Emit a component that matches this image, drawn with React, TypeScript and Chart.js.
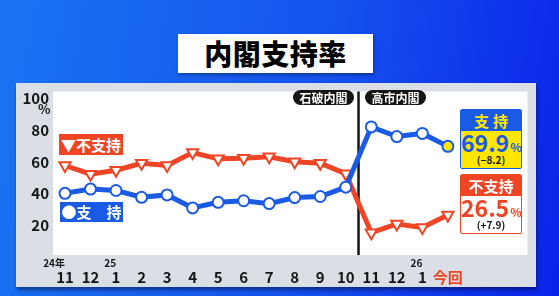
import React, { useEffect, useRef } from 'react';
import { Chart, registerables } from 'chart.js';

Chart.register(...registerables);

// ---- data ----
const monthLabels = ['11', '12', '1', '2', '3', '4', '5', '6', '7', '8', '9', '10', '11', '12', '1', '今回'];
const yearTickIndex = [0, 2, 14];
const yearLabels = ['24年', '25', '26'];
const supportValues = [40.2, 42.9, 42.0, 37.7, 39.2, 31.0, 34.5, 35.5, 33.7, 37.5, 38.2, 44.1, 82.2, 76.1, 78.1, 69.9];
const disapproveValues = [57.8, 52.3, 54.8, 59.2, 57.8, 66.0, 62.0, 62.4, 63.3, 60.2, 59.3, 52.6, 15.3, 20.8, 18.6, 26.5];
const yTickValues = [20, 40, 60, 80, 100];
const cabinetSplit = 11.5;
const cabinetNames = ['石破内閣', '高市内閣'];

const FONT = '"Noto Sans CJK JP", "Noto Sans", sans-serif';
const BLUE = '#1a5be6';
const RED = '#ef4524';
const YELLOW = '#ffe600';
const INK = '#151515';

const fmt = (v: number) => v.toFixed(1);
const fmtDiff = (v: number) => (v < 0 ? '\u2212' : '+') + Math.abs(v).toFixed(1);

const last = supportValues.length - 1;
const supportNow = supportValues[last];
const supportDiff = supportValues[last] - supportValues[last - 1];
const disNow = disapproveValues[last];
const disDiff = disapproveValues[last] - disapproveValues[last - 1];

const plotPlugin = {
  id: 'plotPlugin',
  beforeDraw(chart: any) {
    const { ctx, chartArea: a } = chart;
    ctx.save();
    ctx.fillStyle = '#ffffff';
    ctx.fillRect(a.left, a.top, a.right - a.left, a.bottom - a.top);
    ctx.restore();
  },
  beforeDatasetsDraw(chart: any) {
    const { ctx, chartArea: a } = chart;
    const x = chart.scales.x.getPixelForValue(cabinetSplit);
    ctx.save();
    ctx.strokeStyle = INK;
    ctx.lineWidth = 2.5;
    ctx.beginPath();
    ctx.moveTo(x, a.top);
    ctx.lineTo(x, a.bottom);
    ctx.stroke();
    ctx.restore();
  },
};

const noPad = (axis: any) => {
  axis.paddingTop = 0;
  axis.paddingBottom = 0;
  axis.paddingLeft = 0;
  axis.paddingRight = 0;
};

export default function App() {
  const ref = useRef<HTMLCanvasElement | null>(null);

  useEffect(() => {
    if (!ref.current) return;
    Chart.defaults.font.family = FONT;
    const xMin = -0.47;
    const xMax = 18.12;
    const chart = new Chart(ref.current, {
      type: 'line',
      data: {
        datasets: [
          {
            label: '支持',
            data: supportValues.map((v, i) => ({ x: i, y: v })),
            borderColor: BLUE,
            borderWidth: 5,
            pointStyle: 'circle',
            pointRadius: 5.5,
            pointBorderWidth: 2,
            pointBorderColor: BLUE,
            pointBackgroundColor: supportValues.map((_, i) => (i === last ? YELLOW : '#ffffff')),
            tension: 0,
          },
          {
            label: '不支持',
            data: disapproveValues.map((v, i) => ({ x: i, y: v })),
            borderColor: RED,
            borderWidth: 5,
            pointStyle: 'triangle',
            rotation: 180,
            pointRadius: 6.5,
            pointBorderWidth: 2,
            pointBorderColor: RED,
            pointBackgroundColor: '#ffffff',
            tension: 0,
          },
        ],
      },
      options: {
        animation: false,
        responsive: false,
        events: [],
        layout: { padding: { top: 4, right: 7, bottom: 0, left: 0 } },
        plugins: { legend: { display: false }, tooltip: { enabled: false } },
        scales: {
          y: {
            type: 'linear',
            position: 'left',
            min: 1.2,
            max: 104.6,
            grid: { display: false, drawTicks: false },
            border: { display: false },
            afterBuildTicks: (axis: any) => {
              axis.ticks = yTickValues.map((v) => ({ value: v }));
            },
            afterFit: (axis: any) => {
              axis.width = 37;
              noPad(axis);
            },
            ticks: {
              padding: 4,
              color: INK,
              font: { size: 15, weight: 'bold' },
            },
          },
          x2: {
            type: 'linear',
            position: 'bottom',
            weight: 0,
            min: xMin,
            max: xMax,
            grid: { display: false, drawTicks: false },
            border: { display: false },
            afterBuildTicks: (axis: any) => {
              axis.ticks = yearTickIndex.map((v) => ({ value: v }));
            },
            afterFit: (axis: any) => {
              axis.height = 13;
              noPad(axis);
            },
            ticks: {
              autoSkip: false,
              maxRotation: 0,
              align: 'end',
              padding: 2,
              color: INK,
              font: { size: 10, weight: 'bold' },
              callback: (value: any) => yearLabels[yearTickIndex.indexOf(value)],
            },
          },
          x: {
            type: 'linear',
            position: 'bottom',
            weight: 5,
            min: xMin,
            max: xMax,
            grid: { display: false, drawTicks: false },
            border: { display: false },
            afterBuildTicks: (axis: any) => {
              axis.ticks = monthLabels.map((_, i) => ({ value: i }));
            },
            afterFit: (axis: any) => {
              axis.height = 19;
              noPad(axis);
            },
            ticks: {
              autoSkip: false,
              maxRotation: 0,
              padding: 0,
              color: (c: any) => (c.tick && c.tick.value === monthLabels.length - 1 ? RED : INK),
              font: { size: 15, weight: 'bold' },
              callback: (value: any) => monthLabels[value],
            },
          },
        },
      },
      plugins: [plotPlugin],
    } as any);
    return () => chart.destroy();
  }, []);

  const abs = (s: React.CSSProperties): React.CSSProperties => ({ position: 'absolute', ...s });
  const pill = (left: number, text: string) => (
    <div
      style={abs({
        left,
        top: 90,
        width: 61,
        height: 15,
        background: INK,
        color: '#fff',
        borderRadius: 8,
        fontSize: 12,
        fontWeight: 700,
        lineHeight: '15px',
        textAlign: 'center',
      })}
    >
      {text}
    </div>
  );

  return (
    <div
      style={{
        position: 'fixed',
        left: 0,
        top: 0,
        width: 559,
        height: 296,
        overflow: 'hidden',
        fontFamily: FONT,
        background: 'linear-gradient(100deg, #1a74f2 0%, #1553ee 55%, #0a22ea 100%)',
      }}
    >
      <div
        style={abs({
          left: 178,
          top: 34,
          width: 195,
          height: 39,
          background: '#fff',
          boxShadow: '1px 2px 3px rgba(0,0,0,0.35)',
          textAlign: 'center',
          fontSize: 28,
          fontWeight: 900,
          lineHeight: '39px',
          color: '#000',
          letterSpacing: 0.5,
        })}
      >
        内閣支持率
      </div>

      <div
        style={abs({
          left: 16,
          top: 83,
          width: 520,
          height: 204,
          background: '#d9dfe4',
          boxShadow: '1px 3px 4px rgba(0,0,30,0.45)',
        })}
      >
        <canvas ref={ref} width={520} height={204} style={{ display: 'block', width: 520, height: 204 }} />
      </div>

      <div style={abs({ left: 38, top: 101, width: 14, fontSize: 13, fontWeight: 700, color: INK, lineHeight: '16px' })}>%</div>

      {pill(293, cabinetNames[0])}
      {pill(365, cabinetNames[1])}

      <div
        style={abs({
          left: 59,
          top: 134,
          width: 64,
          height: 21,
          background: RED,
          color: '#fff',
          fontSize: 15,
          fontWeight: 700,
          lineHeight: '21px',
          textAlign: 'center',
        })}
      >
        ▼不支持
      </div>
      <div
        style={abs({
          left: 60,
          top: 202,
          width: 63,
          height: 20,
          background: BLUE,
          color: '#fff',
          fontSize: 15,
          fontWeight: 700,
          lineHeight: '20px',
          textAlign: 'center',
        })}
      >
        ●支　持
      </div>

      <div
        style={abs({
          left: 460,
          top: 109,
          width: 60,
          height: 58,
          border: `1.5px solid ${BLUE}`,
          borderRadius: 2,
          background: YELLOW,
          overflow: 'hidden',
        })}
      >
        <div style={{ height: 21, background: BLUE, color: YELLOW, fontSize: 15, fontWeight: 700, lineHeight: '21px', textAlign: 'center', letterSpacing: 4, paddingLeft: 4 }}>
          支持
        </div>
        <div style={{ textAlign: 'center', color: BLUE, fontWeight: 700, lineHeight: '23px', height: 23, whiteSpace: 'nowrap' }}>
          <span style={{ fontSize: 23 }}>{fmt(supportNow)}</span>
          <span style={{ fontSize: 12, marginLeft: 1 }}>%</span>
        </div>
        <div style={{ textAlign: 'center', color: INK, fontSize: 10, fontWeight: 700, lineHeight: '12px' }}>({fmtDiff(supportDiff)})</div>
      </div>

      <div
        style={abs({
          left: 460,
          top: 174,
          width: 60,
          height: 58,
          border: `1.5px solid ${RED}`,
          borderRadius: 2,
          background: '#fff',
          overflow: 'hidden',
        })}
      >
        <div style={{ height: 21, background: RED, color: '#fff', fontSize: 15, fontWeight: 700, lineHeight: '21px', textAlign: 'center' }}>
          不支持
        </div>
        <div style={{ textAlign: 'center', color: RED, fontWeight: 700, lineHeight: '23px', height: 23, whiteSpace: 'nowrap' }}>
          <span style={{ fontSize: 23 }}>{fmt(disNow)}</span>
          <span style={{ fontSize: 12, marginLeft: 1 }}>%</span>
        </div>
        <div style={{ textAlign: 'center', color: INK, fontSize: 10, fontWeight: 700, lineHeight: '12px' }}>({fmtDiff(disDiff)})</div>
      </div>
    </div>
  );
}
